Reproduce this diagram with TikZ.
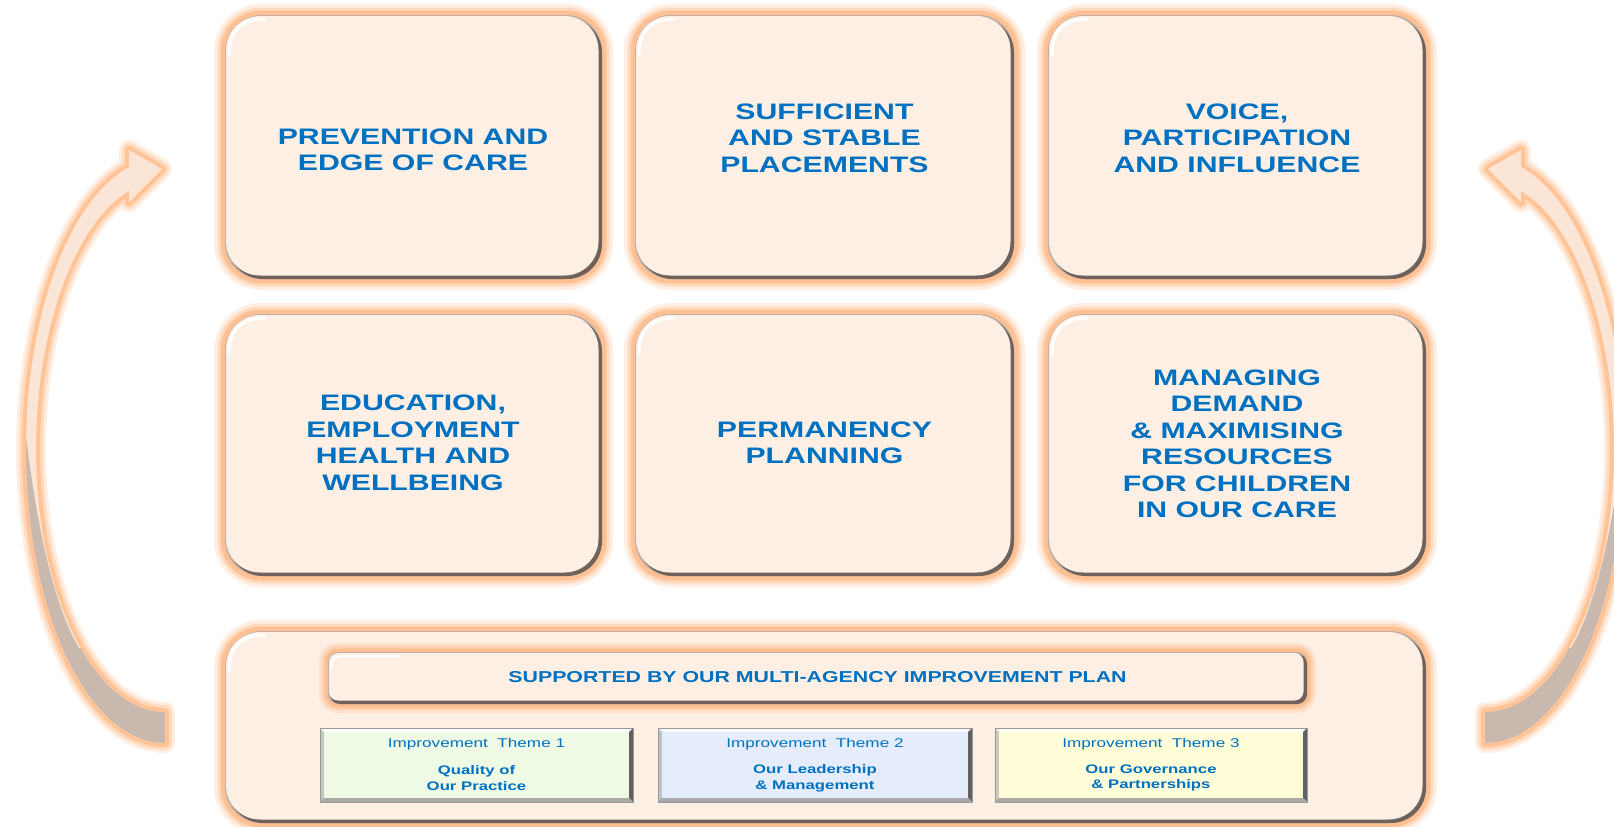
\documentclass[tikz,border=0pt]{standalone}
\usepackage{fontspec}
\setmainfont{Liberation Sans}[FakeStretch=1.35]

\definecolor{txtblue}{HTML}{0070C0}
\definecolor{tilefill}{HTML}{FDEFE4}
\definecolor{glow}{HTML}{FFBB88}
\definecolor{rim}{HTML}{6E625A}
\definecolor{arrowlight}{HTML}{FBE5D7}
\definecolor{arrowdark}{HTML}{C9B8AD}
\definecolor{themegreen}{HTML}{EEFAE4}
\definecolor{themeblue}{HTML}{E5EDFC}
\definecolor{themeyellow}{HTML}{FFFDD8}

\tikzset{
  tilelabel/.style={text=txtblue, font=\bfseries\fontsize{22.4}{26.5}\selectfont, align=center},
  planlabel/.style={text=txtblue, font=\bfseries\fontsize{15.8}{18}\selectfont},
  themetitle/.style={text=txtblue, font=\fontsize{12.7}{15}\selectfont, anchor=base},
  themebody/.style={text=txtblue, font=\bfseries\fontsize{12.4}{15.7}\selectfont, align=center},
  curvearrow/.style={insert path={(129,167) .. controls (68,201) and (26,317) .. (26,450)
      .. controls (26,612) and (88,743) .. (165,743) -- (165,712)
      .. controls (94,712) and (36,595) .. (36,450)
      .. controls (36,330) and (74,224) .. (129,191)
      -- (129,202) -- (162,169) -- (129,150) -- cycle}}
}

\begin{document}
\begin{tikzpicture}[x=1pt, y=-1pt]
  \useasboundingbox (0,0) rectangle (1614,827);

  %side arrows
  \foreach \s/\o in {1/0, -1/1650}{
    \begin{scope}[xshift=\o, xscale=\s]
      \foreach \w/\op in {20/0.25, 14/0.4, 8/0.75}
        \draw[glow, line width=\w, opacity=\op, line join=round, curvearrow];
      \fill[arrowlight, curvearrow];
      \begin{scope}
        \clip (0,400) -- (22,400) .. controls (32,500) and (50,600) .. (79,648) -- (300,648) -- (300,827) -- (0,827) -- cycle;
        \fill[arrowdark, curvearrow];
      \end{scope}
    \end{scope}
  }

  %tiles and panel
  \foreach \xa/\xb/\ya/\yb in {225/602/15/279, 635/1014/15/279, 1048/1426/15/279,
                              225/602/314/576, 635/1014/314/576, 1048/1426/314/576,
                              225/1426/631/823}{
    \foreach \w/\op in {22/0.25, 15/0.4, 9/0.8}
      \draw[glow, line width=\w, opacity=\op, rounded corners=36] (\xa,\ya) rectangle (\xb,\yb);
    \fill[rim!45!tilefill, rounded corners=36] (\xa,\ya) rectangle (\xb,\yb);
    \fill[rim, rounded corners=35] (\xa+3,\ya+3) rectangle (\xb,\yb);
    \fill[tilefill, rounded corners=34] (\xa+1,\ya+1) rectangle (\xb-3.5,\yb-3.5);
    \draw[white, line width=3, line cap=round] (\xa+4,\ya+40) .. controls (\xa+4,\ya+16) and (\xa+16,\ya+4) .. (\xa+40,\ya+4);
  }

  \foreach \x/\y/\name/\txt in {413/150/prev/{PREVENTION AND\\EDGE OF CARE},
       824.5/138/place/{SUFFICIENT\\AND STABLE\\PLACEMENTS},
       1237/138/voice/{VOICE,\\PARTICIPATION\\AND INFLUENCE},
       413/443/edu/{EDUCATION,\\EMPLOYMENT\\HEALTH AND\\WELLBEING},
       824.5/443/perm/{PERMANENCY\\PLANNING},
       1237/444/demand/{MANAGING\\DEMAND\\\& MAXIMISING\\RESOURCES\\FOR CHILDREN\\IN OUR CARE}}{
    \node[tilelabel] (\name) at (\x,\y) {\txt};
  }

  %plan bar
  \foreach \w/\op in {18/0.25, 12/0.4, 7/0.8}
    \draw[glow, line width=\w, opacity=\op, rounded corners=10] (328,652) rectangle (1307,704);
  \fill[rim!45!tilefill, rounded corners=10] (328,652) rectangle (1307,704);
  \fill[rim, rounded corners=10] (330,654) rectangle (1307,704);
  \fill[tilefill, rounded corners=9] (329,653) rectangle (1303.5,700.5);
  \draw[white, line width=2, line cap=round] (331,668) .. controls (331,660) and (334,656) .. (345,656) -- (400,656);
  \node[planlabel] (plan) at (817.5,677.5) {SUPPORTED BY OUR MULTI-AGENCY IMPROVEMENT PLAN};

  %themes
  \def\bw{4}
  \foreach \xa/\xb/\col/\num/\name/\body in {320/633/themegreen/1/qual/{Quality of\\Our Practice},
       658/972/themeblue/2/lead/{Our Leadership\\\& Management},
       995/1307/themeyellow/3/gov/{Our Governance\\\& Partnerships}}{
    \fill[\col!20!white] (\xa,728) -- (\xb,728) -- (\xb-\bw,728+\bw) -- (\xa+\bw,728+\bw) -- cycle;
    \fill[\col!60!gray] (\xa,728) -- (\xa+\bw,728+\bw) -- (\xa+\bw,802-\bw) -- (\xa,802) -- cycle;
    \fill[black!62] (\xb,728) -- (\xb,802) -- (\xb-\bw,802-\bw) -- (\xb-\bw,728+\bw) -- cycle;
    \fill[\col!40!black!55] (\xa,802) -- (\xa+\bw,802-\bw) -- (\xb-\bw,802-\bw) -- (\xb,802) -- cycle;
    \fill[\col] (\xa+\bw,728+\bw) rectangle (\xb-\bw,802-\bw);
    \draw[gray!80, line width=0.8] (\xa,728) rectangle (\xb,802);
    \node[themetitle] (theme\num) at ({(\xa+\xb)/2},747) {Improvement~ Theme \num};
    \node[themebody] (\name) at ({(\xa+\xb)/2},778) {\body};
  }

\end{tikzpicture}
\end{document}
